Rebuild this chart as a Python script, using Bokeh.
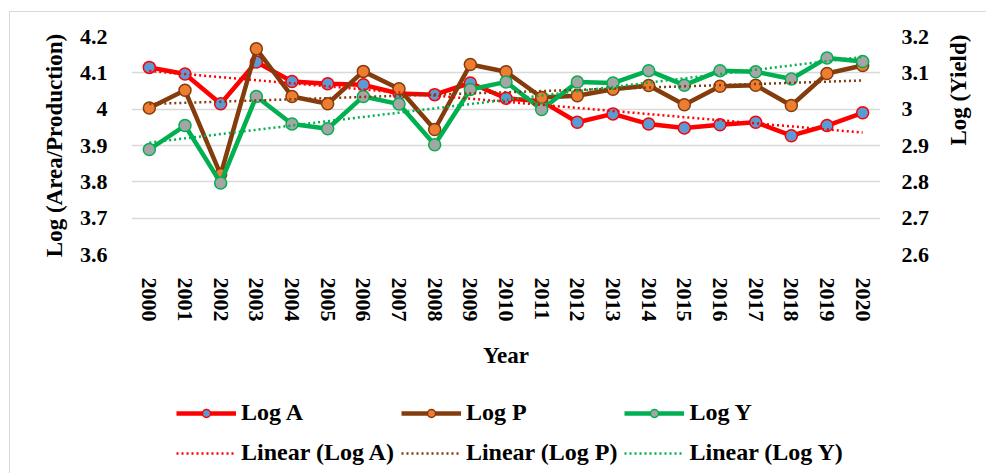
import math
import numpy as np
from bokeh.plotting import figure
from bokeh.layouts import column
from bokeh.models import (Range1d, LinearAxis, FixedTicker, CustomJSTickFormatter,
                          Legend, LegendItem, FactorRange)
from bokeh.embed import file_html
from bokeh.resources import INLINE

years = [str(y) for y in range(2000, 2021)]
log_a = [4.115, 4.097, 4.015, 4.130, 4.076, 4.070, 4.067, 4.043, 4.040, 4.072, 4.030,
         4.022, 3.964, 3.987, 3.959, 3.948, 3.957, 3.964, 3.927, 3.955, 3.990]
log_p = [4.003, 4.052, 3.820, 4.166, 4.035, 4.015, 4.104, 4.056, 3.944, 4.123, 4.103,
         4.032, 4.037, 4.055, 4.065, 4.012, 4.063, 4.066, 4.010, 4.098, 4.120]
log_y = [2.889, 2.955, 2.797, 3.035, 2.959, 2.946, 3.035, 3.014, 2.902, 3.054, 3.075,
         2.999, 3.075, 3.072, 3.106, 3.066, 3.106, 3.103, 3.083, 3.141, 3.131]
left_ticks = [3.6, 3.7, 3.8, 3.9, 4.0, 4.1, 4.2]
right_ticks = [2.6, 2.7, 2.8, 2.9, 3.0, 3.1, 3.2]

idx = np.arange(len(years))
def trend(vals):
    c = np.polyfit(idx, vals, 1)
    return list(np.polyval(c, idx))

tr_a, tr_p, tr_y = trend(log_a), trend(log_p), trend(log_y)

FONT = "Liberation Serif"
RED, BROWN, GREEN = "#FF0000", "#843C0C", "#00B050"
BLUE_M, ORANGE_M, GREY_M = "#5B9BD5", "#ED7D31", "#A5A5A5"
GRID = "#D9D9D9"
LW, MS = 4.5, 12


def draw_series(fig, yname=None):
    """Draw the three series and their trendlines; returns renderers for a legend."""
    kw2 = {} if yname is None else {"y_range_name": yname}
    r = {}
    r["a_l"] = fig.line(years, log_a, line_color=RED, line_width=LW)
    r["a_m"] = fig.scatter(years, log_a, size=MS, fill_color=BLUE_M, line_color=RED, line_width=1.5)
    r["p_l"] = fig.line(years, log_p, line_color=BROWN, line_width=LW)
    r["p_m"] = fig.scatter(years, log_p, size=MS, fill_color=ORANGE_M, line_color=BROWN, line_width=1.5)
    r["y_l"] = fig.line(years, log_y, line_color=GREEN, line_width=LW, **kw2)
    r["y_m"] = fig.scatter(years, log_y, size=MS, fill_color=GREY_M, line_color=GREEN,
                           line_width=1.5, **kw2)
    r["ta"] = fig.line(years, tr_a, line_color=RED, line_width=2.5, line_dash="2 3")
    r["tp"] = fig.line(years, tr_p, line_color=BROWN, line_width=2.5, line_dash="2 3")
    r["ty"] = fig.line(years, tr_y, line_color=GREEN, line_width=2.5, line_dash="2 3", **kw2)
    return r


p = figure(x_range=years, y_range=Range1d(3.6, 4.2), output_backend="svg",
           toolbar_location=None, frame_width=749, frame_height=218,
           min_border_left=121, min_border_top=24, min_border_right=90,
           min_border_bottom=130, background_fill_color="white",
           border_fill_color="white", outline_line_color=None)
p.x_range.range_padding = 0
p.extra_y_ranges = {"yield": Range1d(2.6, 3.2)}
draw_series(p, "yield")

fmt = CustomJSTickFormatter(code="return tick.toFixed(1).replace(/\\.0$/, '');")

p.xgrid.grid_line_color = None
p.ygrid.grid_line_color = GRID
p.ygrid.grid_line_width = 1.5
p.yaxis.ticker = FixedTicker(ticks=left_ticks)
p.ygrid.ticker = FixedTicker(ticks=left_ticks)

def style_axis(ax, lab_standoff, title_standoff):
    ax.axis_line_color = None
    ax.major_tick_line_color = None
    ax.minor_tick_line_color = None
    ax.major_tick_out = 0
    ax.major_tick_in = 0
    ax.major_label_standoff = lab_standoff
    ax.axis_label_standoff = title_standoff
    ax.major_label_text_font = FONT
    ax.major_label_text_font_style = "bold"
    ax.major_label_text_font_size = "22px"
    ax.major_label_text_color = "black"
    ax.axis_label_text_font = FONT
    ax.axis_label_text_font_style = "bold"
    ax.axis_label_text_font_size = "23px"
    ax.axis_label_text_color = "black"

ly = p.yaxis[0]
ly.axis_label = "Log (Area/Production)"
ly.formatter = fmt
style_axis(ly, 24, 10)

ry = LinearAxis(y_range_name="yield", ticker=FixedTicker(ticks=right_ticks), formatter=fmt,
                axis_label="Log (Yield)")
style_axis(ry, 21, 26)
ry.axis_label_orientation = math.pi / 2
p.add_layout(ry, "right")

xa = p.xaxis[0]
xa.axis_label = "Year"
xa.major_label_orientation = "vertical"
style_axis(xa, 23, 18)

# legend strip below the chart: same series, drawn outside its visible y-range,
# so only the legend shows
lg = figure(width=960, height=89, x_range=FactorRange(*years), y_range=Range1d(0, 1),
            output_backend="svg", toolbar_location=None, x_axis_location=None,
            y_axis_location=None, min_border=0, outline_line_color=None,
            background_fill_color="white", border_fill_color="white")
lg.grid.grid_line_color = None
lr = draw_series(lg)

legend = Legend(items=[
    LegendItem(label="Log A", renderers=[lr["a_l"], lr["a_m"]]),
    LegendItem(label="Log P", renderers=[lr["p_l"], lr["p_m"]]),
    LegendItem(label="Log Y", renderers=[lr["y_l"], lr["y_m"]]),
    LegendItem(label="Linear (Log A)", renderers=[lr["ta"]]),
    LegendItem(label="Linear (Log P)", renderers=[lr["tp"]]),
    LegendItem(label="Linear (Log Y)", renderers=[lr["ty"]]),
], orientation="horizontal", ncols=3, location=(45, 4),
    glyph_width=60, glyph_height=20, label_standoff=5, spacing=7, padding=0,
    margin=0, label_height=33,
    label_text_font=FONT, label_text_font_style="bold", label_text_font_size="24px",
    label_text_color="black", border_line_color=None, background_fill_alpha=0)
lg.add_layout(legend, "center")

layout = column(p, lg, spacing=0)
layout.styles = {"margin-top": "11px", "margin-left": "9px",
                 "border-left": "1.5px solid #D9D9D9", "border-top": "1.5px solid #D9D9D9"}

open("out.html", "w").write(file_html(layout, INLINE))
